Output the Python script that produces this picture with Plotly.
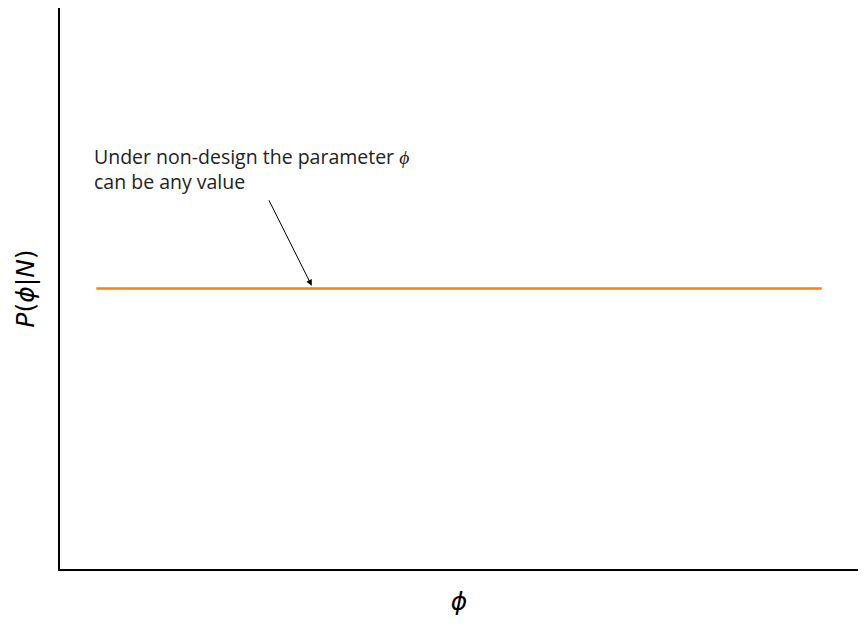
import plotly.graph_objects as go

# Data: uniform prior over phi
phi = [0.0, 1.0]
density = [1.0, 1.0]

annotation_lines = ["Under non-design the parameter <i>ϕ</i>", "can be any value"]
arrow_tip = (0.297, 1.01)
arrow_tail = (0.237, 1.32)
text_pos = (0.0, 1.425)

fig = go.Figure()
fig.add_trace(go.Scatter(x=phi, y=density, mode="lines",
                         line=dict(color="#ff7f0e", width=2.5),
                         showlegend=False, hoverinfo="skip"))

fig.add_annotation(x=text_pos[0], y=text_pos[1], xref="x", yref="y",
                   text="<br>".join(annotation_lines), showarrow=False,
                   xanchor="left", yanchor="middle", align="left", xshift=-4,
                   font=dict(family="Open Sans", size=19.5, color="#222"))
fig.add_annotation(x=arrow_tip[0], y=arrow_tip[1], xref="x", yref="y",
                   ax=arrow_tail[0], ay=arrow_tail[1], axref="x", ayref="y",
                   text="", showarrow=True, arrowhead=2, arrowsize=1.2,
                   arrowwidth=1, arrowcolor="black")

fig.update_layout(
    width=868, height=628,
    margin=dict(l=60, r=10, t=8, b=59),
    paper_bgcolor="white", plot_bgcolor="white",
    xaxis=dict(range=[-0.05, 1.05], showline=True, linecolor="black", linewidth=2,
               showgrid=False, zeroline=False, showticklabels=False, ticks="",
               title=dict(text="<i>ϕ</i>", standoff=22,
                          font=dict(family="DejaVu Sans", size=25, color="black"))),
    yaxis=dict(range=[0, 2], showline=True, linecolor="black", linewidth=2,
               showgrid=False, zeroline=False, showticklabels=False, ticks="",
               title=dict(text="<i>P</i>(<i>ϕ</i>|<i>N</i>)", standoff=16,
                          font=dict(family="DejaVu Sans", size=25, color="black"))),
)

fig.write_html("out.html")
